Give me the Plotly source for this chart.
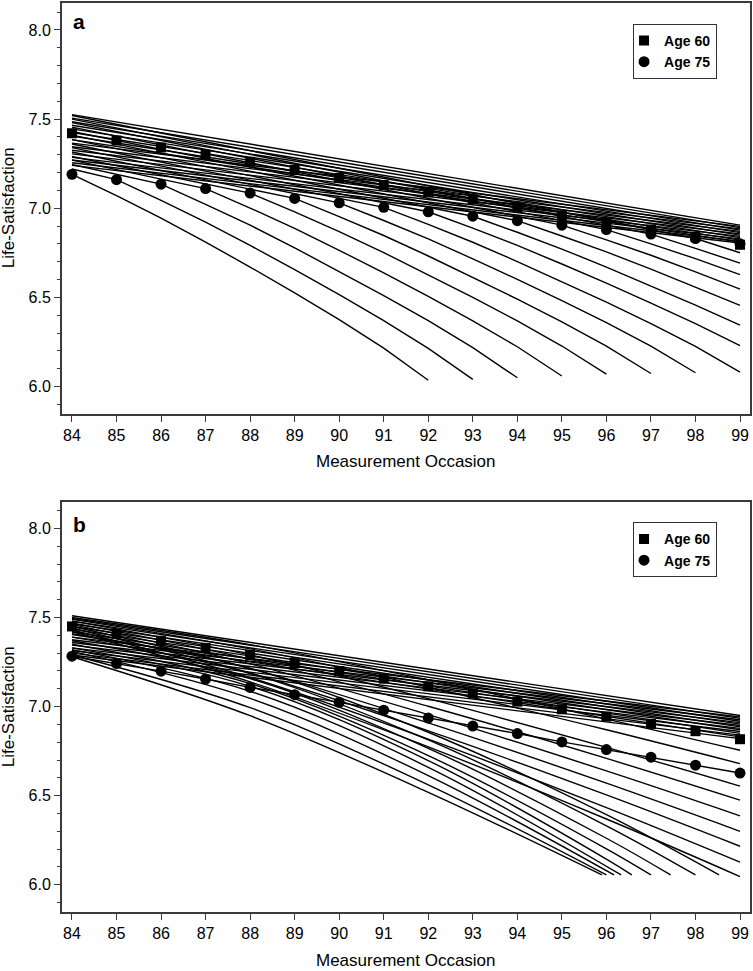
import plotly.graph_objects as go

# ---------------- data ----------------
years = list(range(84, 100))

# cross-sectional markers
a_age60 = [7.42, 7.38, 7.34, 7.30, 7.26, 7.215, 7.17, 7.13, 7.09, 7.05, 7.005, 6.96, 6.92, 6.88, 6.84, 6.795]
a_age75 = [7.19, 7.16, 7.135, 7.11, 7.085, 7.055, 7.03, 7.005, 6.98, 6.955, 6.93, 6.905, 6.88, 6.855, 6.83, 6.80]
b_age60 = [7.45, 7.41, 7.37, 7.33, 7.29, 7.245, 7.20, 7.157, 7.114, 7.073, 7.028, 6.985, 6.944, 6.903, 6.862, 6.817]
b_age75 = [7.283, 7.242, 7.199, 7.155, 7.108, 7.067, 7.024, 6.98, 6.936, 6.891, 6.849, 6.802, 6.759, 6.716, 6.671, 6.627]

# panel a: stable trajectories (value at 84 and at 99)
a_stable_84 = [7.525, 7.505, 7.485, 7.465, 7.445, 7.425, 7.405, 7.385, 7.365, 7.345, 7.325, 7.305, 7.285, 7.27, 7.255, 7.24]
a_stable_99 = [6.905, 6.891, 6.877, 6.863, 6.849, 6.835, 6.821, 6.81, 6.898, 6.884, 6.870, 6.856, 6.842, 6.828, 6.815, 6.805]

# panel a: declining trajectories (onset year, value at 84 before onset, yearly values from onset)
a_onset = [84, 85, 86, 87, 88, 89, 90, 91, 92, 93, 94, 95, 96, 97, 98]
a_pre_84 = [None, 7.22, 7.245, 7.27, 7.29, 7.315, 7.34, 7.36, 7.385, 7.41, 7.43, 7.455, 7.48, 7.50, 7.52]
a_decline = [
    [7.19, 7.07, 6.945, 6.81, 6.67, 6.525, 6.375, 6.215, 6.035],
    [7.16, 7.044, 6.922, 6.791, 6.656, 6.515, 6.369, 6.214, 6.04],
    [7.135, 7.022, 6.905, 6.778, 6.646, 6.51, 6.369, 6.218, 6.049],
    [7.11, 7.001, 6.887, 6.764, 6.637, 6.505, 6.368, 6.223, 6.059],
    [7.085, 6.979, 6.869, 6.751, 6.627, 6.5, 6.368, 6.227, 6.069],
    [7.055, 6.953, 6.847, 6.732, 6.613, 6.49, 6.362, 6.226, 6.073],
    [7.03, 6.931, 6.828, 6.716, 6.601, 6.481, 6.358, 6.226, 6.077],
    [7.005, 6.909, 6.809, 6.701, 6.589, 6.473, 6.353, 6.225, 6.081],
    [6.98, 6.888, 6.791, 6.687, 6.58, 6.468, 6.352, 6.229],
    [6.955, 6.865, 6.771, 6.67, 6.565, 6.456, 6.344],
    [6.93, 6.844, 6.755, 6.658, 6.558, 6.455],
    [6.905, 6.822, 6.736, 6.643, 6.546],
    [6.88, 6.80, 6.717, 6.627],
    [6.855, 6.775, 6.692],
    [6.83, 6.75],
]

# panel b: stable trajectories (value at 84 and at 99)
b_stable_84 = [7.51, 7.495, 7.48, 7.465, 7.45, 7.435, 7.42, 7.405, 7.39, 7.375, 7.36, 7.345, 7.33, 7.315, 7.30, 7.29]
b_stable_99 = [6.95, 6.934, 6.918, 6.902, 6.886, 6.87, 6.85, 6.83, 6.942, 6.926, 6.91, 6.894, 6.878, 6.86, 6.84, 6.82]

# panel b: declining trajectories (years and values)
b_decline_x = [
    [84, 88, 92, 95.9],
    [84, 88, 92, 96.0],
    [84, 88, 92, 96.17],
    [84, 88, 92, 96.33],
    [84, 88, 92, 96, 96.57],
    [84, 88, 92, 96, 97.0],
    [84, 88, 92, 96, 97.44],
    [84, 88, 92, 96, 98.0],
    [84, 88, 92, 96, 98.53],
    [84, 88, 92, 96, 99],
    [84, 88, 92, 96, 99],
    [84, 88, 92, 96, 99],
    [84, 88, 92, 96, 99],
    [84, 88, 92, 96, 99],
    [84, 88, 92, 96, 99],
    [84, 88, 92, 96, 99],
    [84, 88, 92, 96, 99],
    [84, 88, 92, 96, 99],
]
b_decline_y = [
    [7.28, 6.949, 6.519, 6.055],
    [7.29, 6.994, 6.561, 6.055],
    [7.31, 7.046, 6.613, 6.055],
    [7.32, 7.086, 6.659, 6.055],
    [7.33, 7.114, 6.697, 6.144, 6.055],
    [7.35, 7.129, 6.725, 6.202, 6.055],
    [7.37, 7.157, 6.766, 6.261, 6.055],
    [7.39, 7.186, 6.813, 6.331, 6.055],
    [7.41, 7.214, 6.856, 6.393, 6.055],
    [7.42, 7.139, 6.774, 6.369, 6.046],
    [7.43, 7.163, 6.817, 6.433, 6.127],
    [7.44, 7.189, 6.864, 6.504, 6.216],
    [7.45, 7.215, 6.909, 6.57, 6.30],
    [7.46, 7.24, 6.955, 6.639, 6.387],
    [7.47, 7.266, 7.002, 6.709, 6.475],
    [7.48, 7.29, 7.0445, 6.7715, 6.554],
    [7.49, 7.324, 7.109, 6.87, 6.68],
    [7.50, 7.3475, 7.15, 6.93, 6.755],
]

# ---------------- figure ----------------
FONT = "Liberation Sans, Arial, Helvetica, sans-serif"
AXC = "#3a3a3a"
LW = 1.4
fig = go.Figure()


def add_line(x, y, xa, ya, shape="linear"):
    fig.add_trace(go.Scatter(
        x=x, y=y, mode="lines", xaxis=xa, yaxis=ya,
        line=dict(color="black", width=LW, shape=shape),
        showlegend=False, hoverinfo="skip"))


# panel a
for s, e in zip(a_stable_84, a_stable_99):
    add_line([years[0], years[-1]], [s, e], "x", "y")
for onset, pre, vals in zip(a_onset, a_pre_84, a_decline):
    xs = list(range(onset, onset + len(vals)))
    ys = list(vals)
    if pre is not None:
        xs = [years[0]] + xs
        ys = [pre] + ys
    add_line(xs, ys, "x", "y")

# panel b
for s, e in zip(b_stable_84, b_stable_99):
    add_line([years[0], years[-1]], [s, e], "x2", "y2")
for xs, ys in zip(b_decline_x, b_decline_y):
    add_line(xs, ys, "x2", "y2", shape="spline")
add_line(years, b_age75, "x2", "y2")

# markers
for xa, ya, v60, v75, lg in [("x", "y", a_age60, a_age75, "legend"),
                             ("x2", "y2", b_age60, b_age75, "legend2")]:
    fig.add_trace(go.Scatter(x=years, y=v60, mode="markers", xaxis=xa, yaxis=ya,
                             marker=dict(symbol="square", size=10, color="black"),
                             name="<b>Age 60</b>", legend=lg, hoverinfo="skip"))
    fig.add_trace(go.Scatter(x=years, y=v75, mode="markers", xaxis=xa, yaxis=ya,
                             marker=dict(symbol="circle", size=11, color="black"),
                             name="<b>Age 75</b>", legend=lg, hoverinfo="skip"))

xrange = [83.776, 99.224]
yrange = [5.847, 8.151]

xcommon = dict(range=xrange, tickmode="array", tickvals=years,
               ticktext=[str(v) for v in years], ticks="outside", ticklen=6,
               tickwidth=1.3, tickcolor=AXC, showline=True, linecolor=AXC,
               linewidth=2, mirror=True, showgrid=False, zeroline=False,
               tickfont=dict(family=FONT, size=16, color="black"))
ycommon = dict(range=yrange, tick0=6.0, dtick=0.5, tickformat=".1f",
               ticks="outside", ticklen=6, tickwidth=1.3, tickcolor=AXC,
               minor=dict(dtick=0.1, tick0=6.0, ticks="outside", ticklen=3,
                          tickcolor=AXC, tickwidth=1),
               showline=True, linecolor=AXC, linewidth=2, mirror=True,
               showgrid=False, zeroline=False,
               tickfont=dict(family=FONT, size=16, color="black"))

legend_common = dict(xanchor="left", yanchor="top", bgcolor="white",
                     bordercolor="#333333", borderwidth=1, indentation=-10,
                     font=dict(family="Liberation Sans Narrow, Liberation Sans, Arial", size=14, color="black"),
                     traceorder="normal")

fig.update_layout(
    width=753, height=971,
    margin=dict(l=62, r=2, t=1, b=59),
    paper_bgcolor="white", plot_bgcolor="white",
    xaxis=dict(domain=[0, 1], anchor="y", **xcommon),
    yaxis=dict(domain=[0.5481, 1], anchor="x", **ycommon),
    xaxis2=dict(domain=[0, 1], anchor="y2", **xcommon),
    yaxis2=dict(domain=[0, 0.4515], anchor="x2", **ycommon),
    legend=dict(x=0.830, y=0.977, **legend_common),
    legend2=dict(x=0.830, y=0.4286, **legend_common),
    annotations=[
        dict(text="<b>a</b>", xref="x domain", yref="y domain", x=0.013, y=0.987,
             xanchor="left", yanchor="top", showarrow=False,
             font=dict(family=FONT, size=21, color="black")),
        dict(text="<b>b</b>", xref="x2 domain", yref="y2 domain", x=0.013, y=0.978,
             xanchor="left", yanchor="top", showarrow=False,
             font=dict(family=FONT, size=21, color="black")),
        dict(text="Measurement Occasion", xref="paper", yref="paper", x=0.5, y=0.4954,
             xanchor="center", yanchor="middle", showarrow=False,
             font=dict(family=FONT, size=17, color="black")),
        dict(text="Measurement Occasion", xref="paper", yref="paper", x=0.5, y=-0.053,
             xanchor="center", yanchor="middle", showarrow=False,
             font=dict(family=FONT, size=17, color="black")),
        dict(text="Life-Satisfaction", xref="paper", yref="paper", x=-0.0774, y=0.775,
             xanchor="center", yanchor="middle", textangle=-90, showarrow=False,
             font=dict(family=FONT, size=17, color="black")),
        dict(text="Life-Satisfaction", xref="paper", yref="paper", x=-0.0774, y=0.2261,
             xanchor="center", yanchor="middle", textangle=-90, showarrow=False,
             font=dict(family=FONT, size=17, color="black")),
    ],
)

fig.write_html("out.html", config={"displayModeBar": False},
               post_script="document.body.style.margin='0';document.body.style.overflow='hidden';")
